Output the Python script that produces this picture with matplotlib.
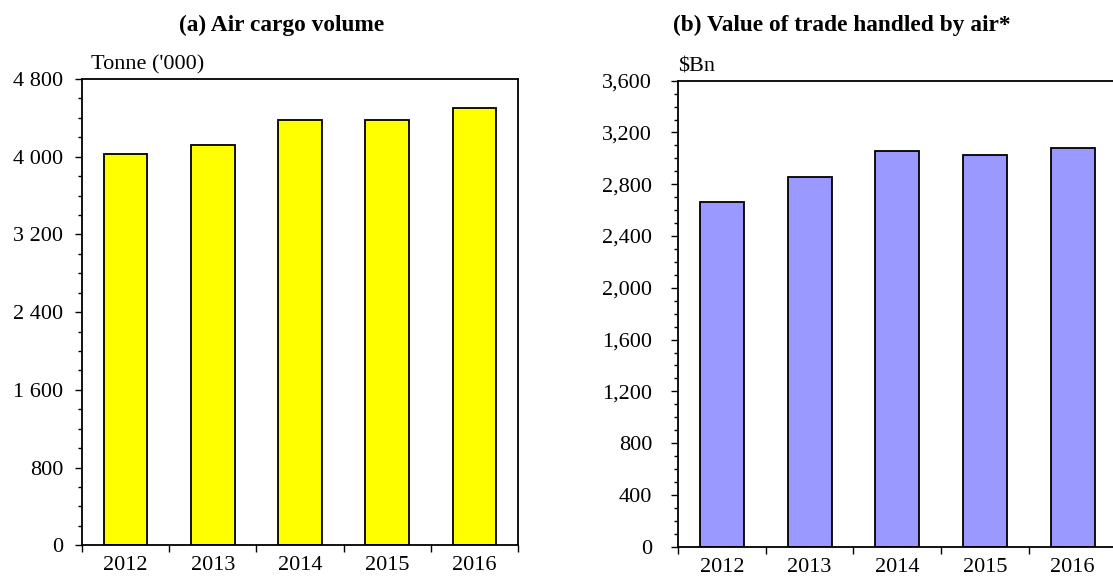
import numpy as np
import matplotlib
matplotlib.use('Agg')
import matplotlib.pyplot as plt
from matplotlib.ticker import FuncFormatter, MultipleLocator, FixedLocator

years = ['2012', '2013', '2014', '2015', '2016']
cargo_tonnes = [4030, 4125, 4375, 4380, 4505]      # thousand tonnes
trade_value = [2665, 2855, 3060, 3025, 3080]      # $ billion

plt.rcParams['font.family'] = ['Liberation Serif', 'DejaVu Serif']
plt.rcParams['font.size'] = 16


def style_axes(ax, ymax, major, minor, fmt, label_pad):
    n = len(years)
    ax.set_xlim(-0.5, n - 0.5)
    ax.set_ylim(0, ymax)
    # category boundaries carry the ticks, centres carry the labels
    ax.xaxis.set_major_locator(FixedLocator(np.arange(n + 1) - 0.5))
    ax.xaxis.set_minor_locator(FixedLocator(np.arange(n)))
    ax.set_xticklabels([], minor=False)
    ax.set_xticklabels(years, minor=True)
    ax.tick_params(axis='x', which='major', direction='out', length=5, width=1)
    ax.tick_params(axis='x', which='minor', length=0, pad=8)
    ax.yaxis.set_major_locator(MultipleLocator(major))
    ax.yaxis.set_minor_locator(MultipleLocator(minor))
    ax.yaxis.set_major_formatter(FuncFormatter(fmt))
    ax.tick_params(axis='y', which='major', direction='out', length=5, width=1, pad=label_pad)
    ax.tick_params(axis='y', which='minor', direction='out', length=3, width=1)
    for s in ax.spines.values():
        s.set_linewidth(1.3)


fig = plt.figure(figsize=(11.13, 5.76), dpi=100)

ax1 = fig.add_axes([0.0737, 0.0533, 0.3917, 0.8095])
x = np.arange(len(years))
ax1.bar(x, cargo_tonnes, width=0.5, color='#FFFF00', edgecolor='black', linewidth=1.3)
style_axes(ax1, 4800, 800, 200,
           lambda v, p: f'{int(v):,}'.replace(',', ' '), 8.6)
ax1.text(0.02, 1.01, "Tonne ('000)", transform=ax1.transAxes, ha='left', va='bottom')

ax2 = fig.add_axes([0.6092, 0.0509, 0.394, 0.809])
ax2.bar(x, trade_value, width=0.5, color='#9999FF', edgecolor='black', linewidth=1.3)
style_axes(ax2, 3600, 400, 100, lambda v, p: f'{int(v):,}', 13.7)
ax2.text(0.0, 1.01, '$Bn', transform=ax2.transAxes, ha='left', va='bottom')

fig.text(282 / 1113, 1 - 25 / 576, '(a) Air cargo volume',
         ha='center', va='center', fontweight='bold', fontsize=16.8)
fig.text(842 / 1113, 1 - 25 / 576, '(b) Value of trade handled by air*',
         ha='center', va='center', fontweight='bold', fontsize=16.8)

fig.savefig('out.png', dpi=100)
